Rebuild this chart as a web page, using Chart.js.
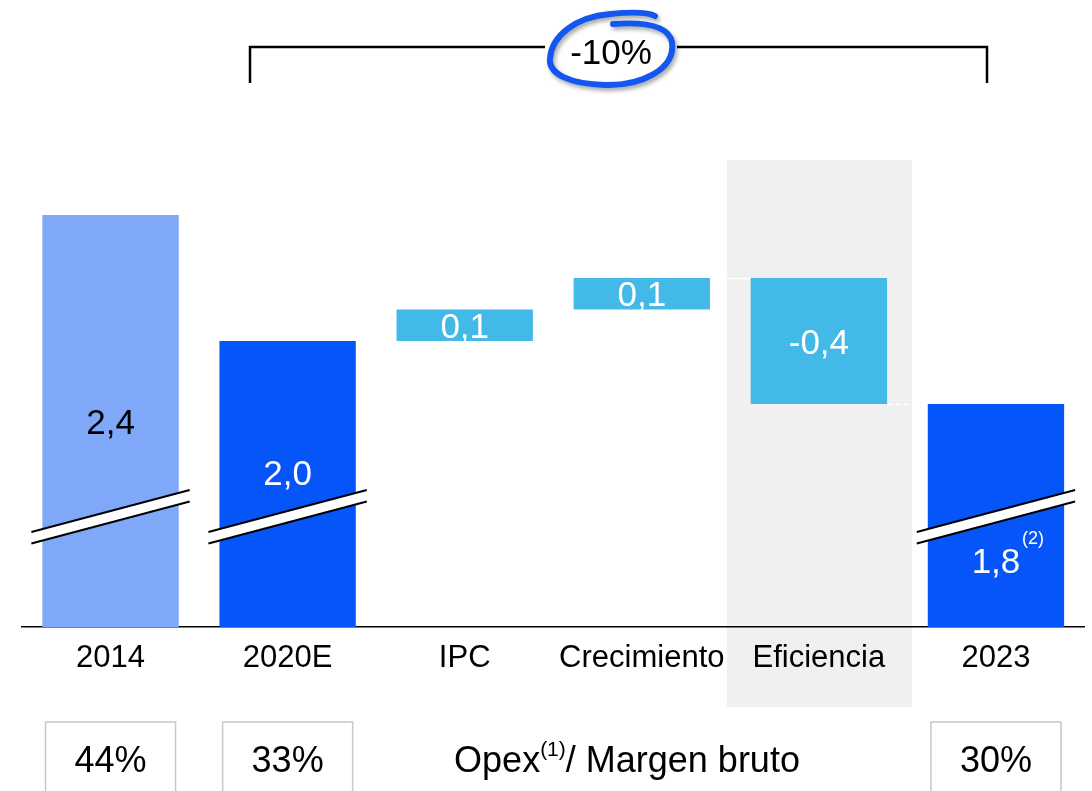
<!DOCTYPE html>
<html lang="es">
<head>
<meta charset="utf-8">
<title>Opex</title>
<script src="https://cdn.jsdelivr.net/npm/chart.js@4.4.1/dist/chart.umd.min.js"></script>
<style>
  html, body { margin: 0; padding: 0; background: #fff; }
  #wrap { width: 1092px; height: 791px; position: relative; }
</style>
</head>
<body>
<div id="wrap"><canvas id="opexChart"></canvas></div>
<script>
const categories = ["2014", "2020E", "IPC", "Crecimiento", "Eficiencia", "2023"];
const totals = [2.4, 2.0, null, null, null, 1.8];
const steps = [null, null, 0.1, 0.1, -0.4, null];
const ratios = ["44%", "33%", null, null, null, "30%"];
const totalChange = "-10%";
const ratioTitle = "Opex";
const ratioTitleRest = "/ Margen bruto";

const FONT = '"Liberation Sans", Arial, Helvetica, sans-serif';
const LIGHT = "#7FA8F9";
const BLUE = "#0655F8";
const CYAN = "#42B9E6";

// waterfall: totals start from the axis, steps float from the running level
let running = 0;
const bars = categories.map((c, i) => {
  if (totals[i] !== null) { running = totals[i]; return totals[i]; }
  const start = running;
  running = +(running + steps[i]).toFixed(2);
  return [start, running];
});
const barColors = categories.map((c, i) =>
  i === 0 ? LIGHT : totals[i] !== null ? BLUE : CYAN);
const fmt = v => v.toFixed(1).replace(".", ",");

const labelNudge = { 1: -12, 5: 45 };
const breakAt = 1.46;

const decor = {
  id: "decor",
  beforeDraw(chart) {
    const ctx = chart.ctx, x = chart.scales.x;
    const cx = x.getPixelForValue(4);
    ctx.save();
    ctx.fillStyle = "#F0F0F0";
    ctx.fillRect(cx - 92, 160, 185, 547);
    ctx.restore();
  },
  beforeDatasetsDraw(chart) {
    // white connectors between waterfall levels
    const ctx = chart.ctx, els = chart.getDatasetMeta(0).data;
    const y = chart.scales.y;
    ctx.save();
    ctx.strokeStyle = "#fff";
    ctx.lineWidth = 1.5;
    for (let i = 1; i < els.length; i++) {
      const prev = bars[i - 1], level = Array.isArray(prev) ? prev[1] : prev;
      const py = Math.round(y.getPixelForValue(level)) + 0.5;
      ctx.setLineDash(i === els.length - 1 ? [5, 3] : []);
      ctx.beginPath();
      ctx.moveTo(els[i - 1].x + els[i - 1].width / 2, py);
      ctx.lineTo(els[i].x - els[i].width / 2, py);
      ctx.stroke();
    }
    ctx.restore();
  },
  afterDatasetsDraw(chart) {
    const ctx = chart.ctx, els = chart.getDatasetMeta(0).data;
    const y = chart.scales.y, bottom = chart.chartArea.bottom;
    ctx.save();
    // axis break marks on the total bars
    const by = y.getPixelForValue(breakAt);
    els.forEach((el, i) => {
      if (totals[i] === null) return;
      const x0 = el.x - el.width / 2 - 11, x1 = el.x + el.width / 2 + 11;
      const rise = 21, gap = 11.5;
      ctx.fillStyle = "#fff";
      ctx.beginPath();
      ctx.moveTo(x0, by + rise);
      ctx.lineTo(x1, by - rise);
      ctx.lineTo(x1, by - rise + gap);
      ctx.lineTo(x0, by + rise + gap);
      ctx.closePath();
      ctx.fill();
      ctx.strokeStyle = "#000";
      ctx.lineWidth = 2;
      [0, gap].forEach(d => {
        ctx.beginPath();
        ctx.moveTo(x0, by + rise + d);
        ctx.lineTo(x1, by - rise + d);
        ctx.stroke();
      });
    });
    // value labels
    ctx.textAlign = "center";
    ctx.textBaseline = "middle";
    ctx.font = "35px " + FONT;
    els.forEach((el, i) => {
      const v = totals[i] !== null ? totals[i] : steps[i];
      const base = Math.min(el.base, bottom);
      const ty = (el.y + base) / 2 + 3 + (labelNudge[i] || 0);
      ctx.fillStyle = i === 0 ? "#000" : "#fff";
      ctx.fillText(fmt(v), el.x, ty);
      if (i === 5) {
        ctx.font = "18px " + FONT;
        ctx.fillText("(2)", el.x + 37, ty - 24);
        ctx.font = "35px " + FONT;
      }
    });
    ctx.restore();
  },
  afterDraw(chart) {
    const ctx = chart.ctx, els = chart.getDatasetMeta(0).data;
    ctx.save();
    // bracket over 2020E..2023
    ctx.strokeStyle = "#000";
    ctx.lineWidth = 2.5;
    ctx.beginPath();
    ctx.moveTo(250, 83); ctx.lineTo(250, 47); ctx.lineTo(545, 47);
    ctx.moveTo(677, 47); ctx.lineTo(987, 47); ctx.lineTo(987, 83);
    ctx.stroke();
    ctx.fillStyle = "#000";
    ctx.textAlign = "center";
    ctx.textBaseline = "middle";
    ctx.font = "35px " + FONT;
    ctx.fillText(totalChange, 611, 54);
    // hand drawn ring
    ctx.shadowColor = "rgba(0,0,0,0.35)";
    ctx.shadowBlur = 4;
    ctx.shadowOffsetX = 2;
    ctx.shadowOffsetY = 3;
    ctx.strokeStyle = "#1456F0";
    ctx.lineWidth = 6;
    ctx.lineCap = "round";
    ctx.beginPath();
    ctx.moveTo(613, 24);
    ctx.bezierCurveTo(640, 22, 668, 24, 672, 42);
    ctx.bezierCurveTo(676, 70, 640, 86, 605, 85);
    ctx.bezierCurveTo(570, 84, 548, 74, 550, 58);
    ctx.bezierCurveTo(552, 36, 575, 17, 610, 14);
    ctx.bezierCurveTo(630, 12, 648, 12, 655, 16);
    ctx.stroke();
    ctx.shadowColor = "transparent";
    // ratio boxes
    ctx.strokeStyle = "#C8C8C8";
    ctx.lineWidth = 1.5;
    ctx.font = "36px " + FONT;
    els.forEach((el, i) => {
      if (!ratios[i]) return;
      ctx.strokeRect(el.x - 65, 722, 130, 90);
      ctx.fillText(ratios[i], el.x, 762);
    });
    const w1 = ctx.measureText(ratioTitle).width;
    ctx.font = "21px " + FONT;
    const w2 = ctx.measureText("(1)").width;
    ctx.font = "36px " + FONT;
    const w3 = ctx.measureText(ratioTitleRest).width;
    let tx = 627 - (w1 + w2 + w3) / 2;
    ctx.textAlign = "left";
    ctx.fillText(ratioTitle, tx, 762);
    ctx.font = "21px " + FONT;
    ctx.fillText("(1)", tx + w1, 750);
    ctx.font = "36px " + FONT;
    ctx.fillText(ratioTitleRest, tx + w1 + w2, 762);
    ctx.restore();
  }
};

new Chart(document.getElementById("opexChart"), {
  type: "bar",
  data: {
    labels: categories,
    datasets: [{
      data: bars,
      backgroundColor: barColors,
      borderWidth: 0,
      barPercentage: 0.77,
      categoryPercentage: 1
    }]
  },
  options: {
    responsive: true,
    maintainAspectRatio: false,
    animation: false,
    layout: { padding: { left: 22, right: 7.5, top: 152, bottom: 100.8 } },
    plugins: { legend: { display: false }, tooltip: { enabled: false } },
    scales: {
      x: {
        grid: { display: false, drawTicks: false },
        border: { display: true, color: "#000", width: 1.5 },
        ticks: { color: "#000", padding: 13, font: { family: FONT, size: 31 } }
      },
      y: { display: false, min: 1.092, max: 2.6 }
    }
  },
  plugins: [decor]
});
</script>
</body>
</html>
